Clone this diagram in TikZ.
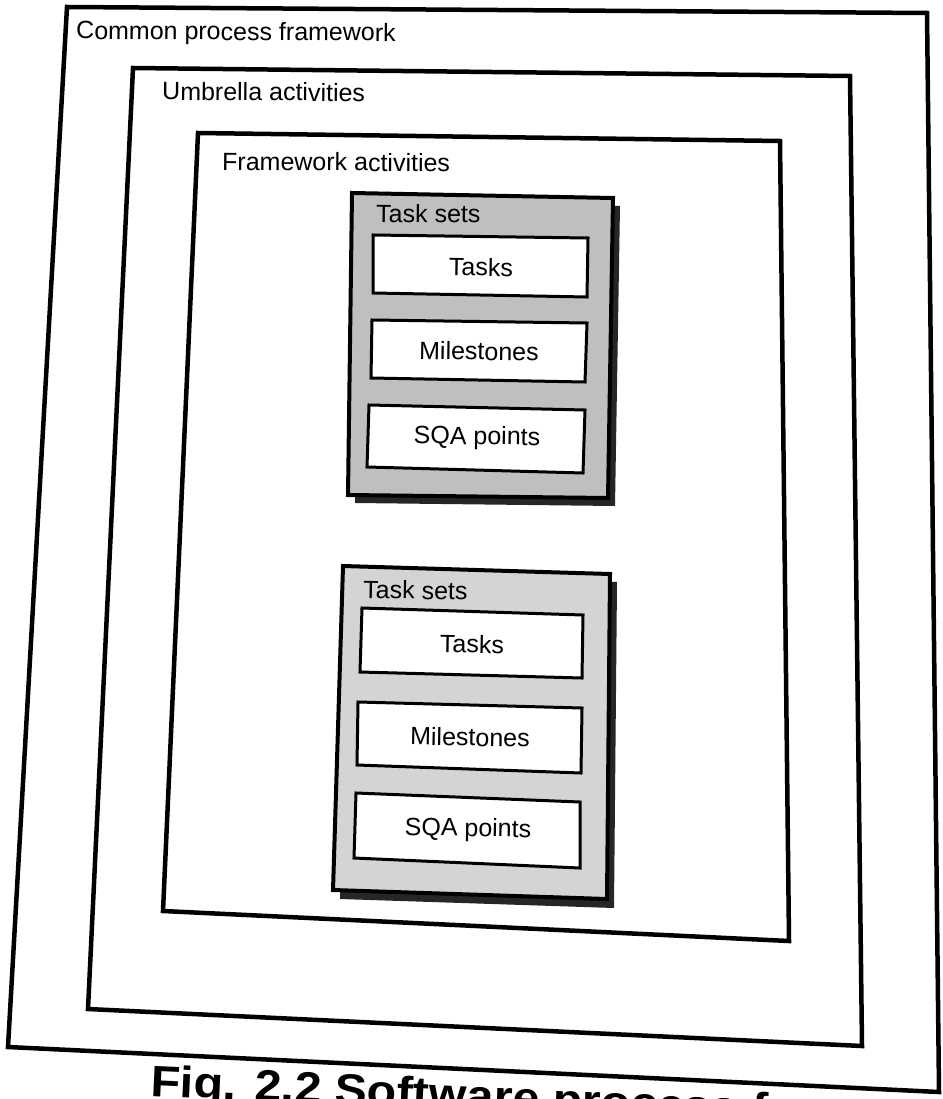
\documentclass[tikz,border=0pt]{standalone}
\usepackage{fontspec}
\setmainfont{Liberation Sans}
\begin{document}
\begin{tikzpicture}[x=1pt,y=-1pt,
  frame/.style={draw=black, line width=4.5pt, line join=miter},
  setbox/.style={draw=black, line width=4pt, line join=miter},
  shadowbox/.style={fill=black!85, draw=none},
  itembox/.style={draw=black, fill=white, line width=3pt, line join=miter},
  lbl/.style={font=\fontsize{25}{30}\selectfont, inner sep=0pt},
  caption/.style={font=\fontsize{44}{52}\selectfont\bfseries, inner sep=0pt}]
\useasboundingbox (0,0) rectangle (942,1099);

% nested frames
\draw[frame] (67,7) -- (927,13) -- (939,1092) -- (8,1047) -- cycle;
\draw[frame] (133,68) -- (850,76) -- (862,1046) -- (88,1009) -- cycle;
\draw[frame] (198,133) -- (780,141) -- (789,941) -- (163,911) -- cycle;

\node[lbl, anchor=base west, rotate=-0.4] (cpf) at (76,39) {Common process framework};
\node[lbl, anchor=base west, rotate=-0.4] (ua) at (162,100) {Umbrella activities};
\node[lbl, anchor=base west, rotate=-0.4] (fa) at (222,170) {Framework activities};

% task set 1
\fill[shadowbox] (359,201) -- (620,206) -- (615,506) -- (355,503) -- cycle;
\draw[setbox, fill=black!25] (352,193) -- (613,198) -- (608,498) -- (348,495) -- cycle;
\node[lbl, anchor=base west, rotate=-0.6] (ts1) at (376,222) {Task sets};
\draw[itembox] (373,235) -- (588,238) -- (587,297) -- (373,293) -- cycle;
\node[lbl, rotate=-0.8] (t1) at (481,267) {Tasks};
\draw[itembox] (372,320) -- (587,323) -- (585,382) -- (371,378) -- cycle;
\node[lbl, rotate=-0.8] (m1) at (479,351) {Milestones};
\draw[itembox] (369,405) -- (585,410) -- (583,473) -- (367,467) -- cycle;
\node[lbl, rotate=-0.8] (s1) at (477,438) {SQA points};

% task set 2
\fill[shadowbox] (350,574) -- (617,582) -- (614,908) -- (340,899) -- cycle;
\draw[setbox, fill=black!17] (343,566) -- (610,574) -- (607,899) -- (333,890) -- cycle;
\node[lbl, anchor=base west, rotate=-1] (ts2) at (363,598) {Task sets};
\draw[itembox] (362,608) -- (583,615) -- (582,678) -- (360,672) -- cycle;
\node[lbl, rotate=-1] (t2) at (472,644) {Tasks};
\draw[itembox] (358,702) -- (582,708) -- (581,773) -- (357,765) -- cycle;
\node[lbl, rotate=-1] (m2) at (470,737) {Milestones};
\draw[itembox] (356,793) -- (580,802) -- (580,868) -- (354,858) -- cycle;
\node[lbl, rotate=-1] (s2) at (468,830) {SQA points};

% caption (partly cut off by the page edge)
\begin{scope}
\clip (0,0) rectangle (942,1099);
\node[caption, anchor=base west, rotate=-2.6, xscale=1.1] (cap) at (150,1096) {Fig. 2.2 Software process framework};
\end{scope}
\end{tikzpicture}
\end{document}
